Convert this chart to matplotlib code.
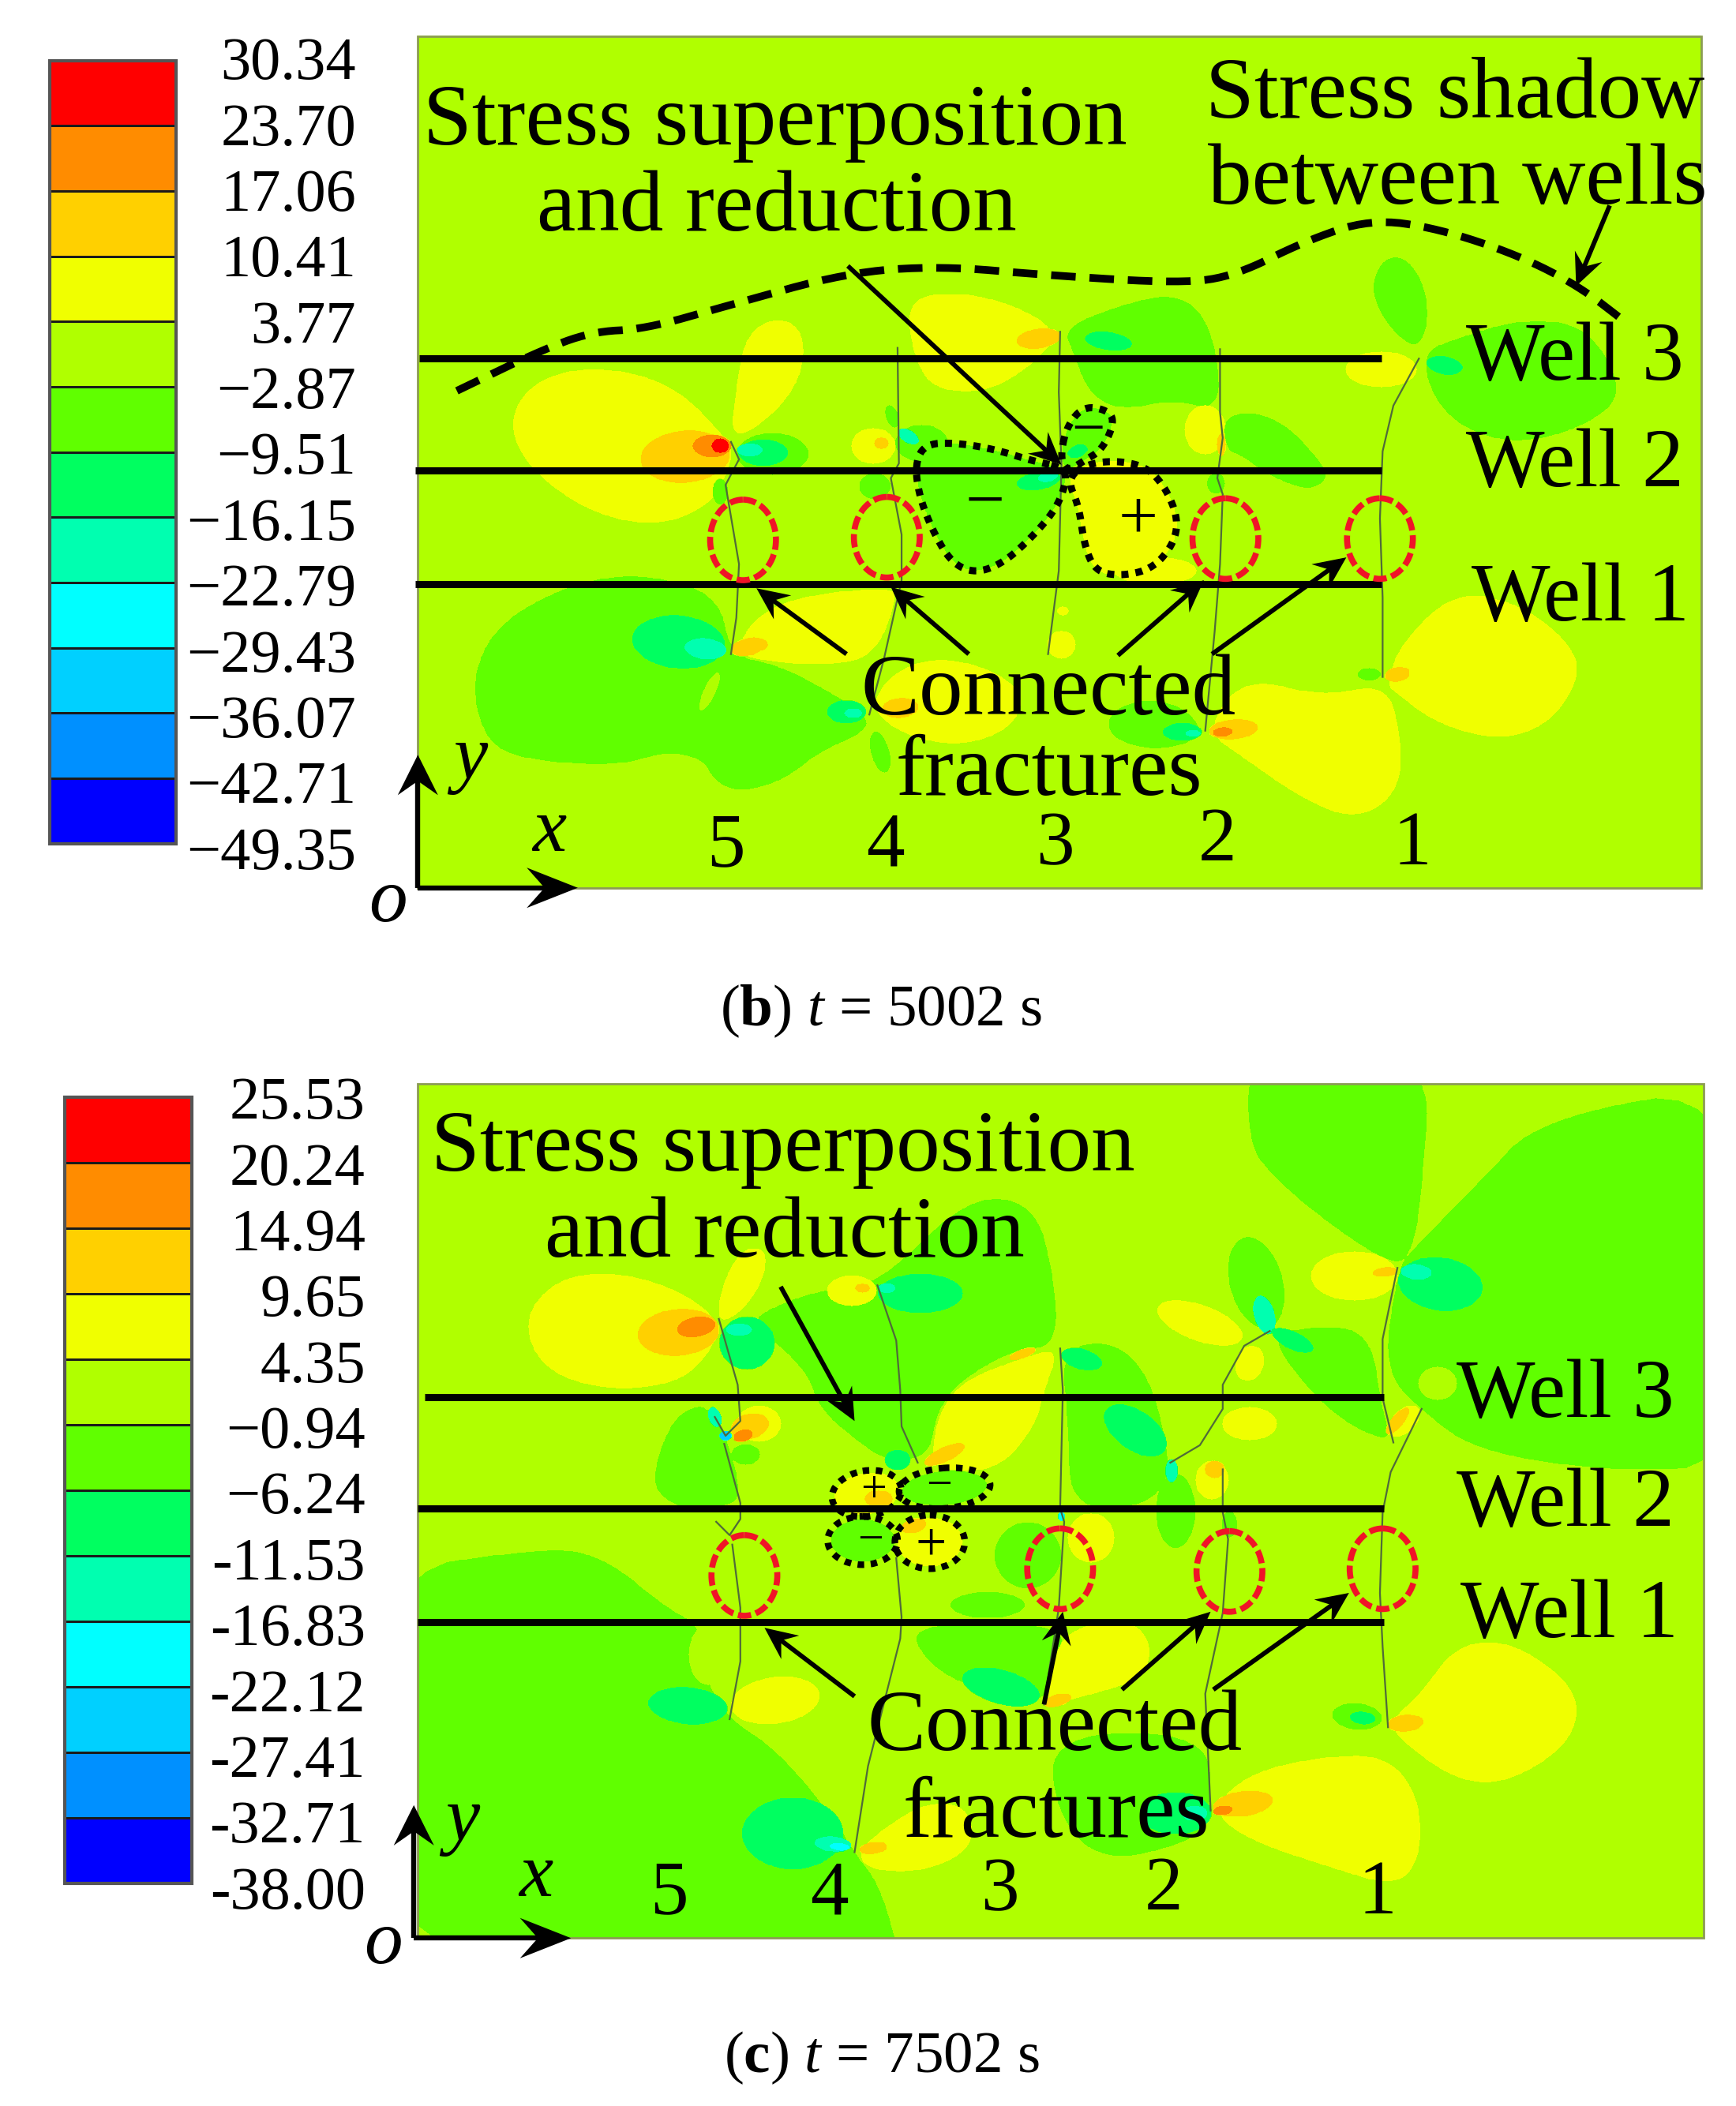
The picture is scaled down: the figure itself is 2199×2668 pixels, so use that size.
import numpy as np
import matplotlib
matplotlib.use("Agg")
import matplotlib.pyplot as plt
from matplotlib.path import Path
from matplotlib.patches import Rectangle, Ellipse
from matplotlib.colors import ListedColormap

plt.rcParams['font.family'] = ['Liberation Serif', 'DejaVu Serif']
plt.rcParams['mathtext.fontset'] = 'custom'
plt.rcParams['mathtext.rm'] = 'Liberation Serif'
plt.rcParams['mathtext.it'] = 'Liberation Serif:italic'
plt.rcParams['mathtext.bf'] = 'Liberation Serif:bold'

# band colours, top of the colour bar first
bar_colors = ['#ff0000', '#ff8c00', '#ffd000', '#f0ff00', '#b0ff00', '#60ff00',
              '#00ff60', '#00ffb0', '#00ffff', '#00d0ff', '#0090ff', '#0000ff']
# band number of each colour: 0 is the background colour
bar_bands = [4, 3, 2, 1, 0, -1, -2, -3, -4, -5, -6, -7]

b_ticks = ['30.34', '23.70', '17.06', '10.41', '3.77', '\u22122.87', '\u22129.51', '\u221216.15',
           '\u221222.79', '\u221229.43', '\u221236.07', '\u221242.71', '\u221249.35']
c_ticks = ['25.53', '20.24', '14.94', '9.65', '4.35', '\u22120.94', '\u22126.24', '-11.53',
           '-16.83', '-22.12', '-27.41', '-32.71', '-38.00']

# regions: (band, [polygon points]) or (band, x, y, a, b, rotation), painted in order
b_regions = [
    (1, [(544, 330), (500, 285), (440, 272), (395, 285), (378, 316), (395, 350), (440, 382), (490, 392), (530, 375), (544, 345)]),
    (1, [(544, 330), (548, 290), (555, 250), (577, 236), (597, 245), (598, 275), (580, 305)]),
    (2, 510, 340, 33, 19, -5),
    (3, 530, 332, 14, 8, 0),
    (4, 536, 332, 6, 5, 0),
    (-1, 575, 338, 27, 16, 0),
    (-2, 568, 337, 19, 10, 0),
    (-3, 558, 335, 10, 5, 0),
    (-1, 536, 366, 6, 10, 0),
    (-1, [(352, 500), (370, 465), (412, 440), (455, 428), (495, 430), (536, 445), (544, 488), (580, 495), (618, 515), (645, 532), (645, 545), (610, 560), (584, 581), (552, 590), (532, 583), (523, 565), (495, 560), (462, 570), (410, 568), (370, 560), (355, 535)]),
    (1, [(548, 486), (560, 462), (590, 445), (660, 437), (668, 445), (650, 490), (610, 495), (570, 492)]),
    (-2, 505, 478, 35, 20, 5),
    (-3, 525, 483, 16, 8, 5),
    (2, 556, 482, 12, 6, -10),
    (0, 528, 515, 4, 15, 25),
    (2, 561, 480, 10, 5, 0),
    (1, [(648, 530), (660, 505), (690, 490), (730, 495), (762, 515), (755, 540), (720, 555), (680, 550)]),
    (2, 670, 527, 13, 7, -5),
    (-2, 630, 530, 15, 9, 0),
    (-3, 635, 531, 7, 4, 0),
    (-1, 655, 560, 7, 16, -15),
    (1, [(789, 247), (750, 225), (705, 217), (675, 225), (680, 265), (695, 290), (735, 292), (770, 270)]),
    (2, 773, 252, 16, 7, -8),
    (-1, [(791, 244), (833, 227), (873, 218), (896, 233), (907, 267), (907, 306), (873, 298), (833, 306), (810, 293), (799, 264)]),
    (-2, 825, 254, 18, 7, 8),
    (-1, 664, 310, 5, 9, -20),
    (-1, 686, 330, 20, 14, 0),
    (1, 650, 332, 16, 13, 0),
    (2, 656, 330, 5, 4, 0),
    (-3, 676, 325, 9, 5, 30),
    (-1, 651, 362, 12, 10, 0),
    (-1, [(791, 348), (768, 343), (742, 335), (715, 330), (689, 330), (681, 345), (684, 369), (694, 395), (708, 419), (726, 427), (747, 419), (768, 400), (786, 379), (794, 358)]),
    (-2, 773, 358, 17, 7, -10),
    (-3, 780, 355, 8, 4, -10),
    (-1, [(789, 340), (794, 317), (807, 302), (826, 306), (829, 316), (820, 335), (807, 343), (794, 351)]),
    (-2, 802, 336, 8, 5, -20),
    (1, 860, 425, 30, 10, 0),
    (1, [(794, 356), (810, 345), (833, 343), (854, 348), (868, 364), (877, 387), (873, 406), (857, 424), (833, 429), (815, 425), (807, 406), (803, 377)]),
    (1, 897, 320, 15, 18, 0),
    (2, 909, 331, 3, 8, 0),
    (-1, [(910, 310), (935, 306), (960, 318), (980, 340), (990, 355), (975, 366), (945, 355), (925, 340), (912, 335)]),
    (-1, 905, 360, 7, 8, 0),
    (1, 790, 480, 10, 10, 0),
    (1, 791, 455, 4, 3, 0),
    (-1, [(897, 545), (880, 525), (850, 520), (825, 530), (825, 548), (850, 558), (880, 556)]),
    (-2, 880, 545, 15, 7, 0),
    (-3, 888, 546, 6, 3, 0),
    (1, [(897, 544), (926, 504), (984, 519), (1031, 509), (1042, 544), (1042, 589), (1009, 611), (967, 593), (926, 564)]),
    (2, 918, 543, 18, 7, -5),
    (3, 910, 545, 7, 3, -5),
    (1, [(1033, 509), (1042, 480), (1083, 440), (1132, 450), (1169, 480), (1176, 504), (1153, 539), (1116, 551), (1070, 539), (1037, 514)]),
    (2, 1040, 502, 9, 5, -10),
    (-1, 1019, 502, 9, 5, 0),
    (-1, [(1054, 262), (1030, 240), (1020, 215), (1028, 193), (1045, 190), (1060, 210), (1064, 240)]),
    (-1, [(1058, 262), (1083, 252), (1132, 237), (1182, 242), (1210, 292), (1182, 317), (1132, 331), (1091, 321), (1066, 297)]),
    (-2, 1075, 272, 14, 7, 10),
    (1, 1028, 275, 26, 13, 0),
]

c_regions = [
    (-1, [(930, 780), (1066, 780), (1058, 892), (1052, 929), (1040, 944), (996, 917), (947, 877), (928, 850)]),
    (-1, [(1052, 929), (1099, 882), (1145, 832), (1300, 806), (1300, 1091), (1198, 1096), (1099, 1081), (1058, 1051), (1029, 1020), (1040, 944)]),
    (0, 1070, 1030, 14, 12, 0),
    (-1, [(946, 995), (975, 987), (1020, 990), (1029, 1050), (1037, 1075), (1000, 1060), (965, 1025)]),
    (-1, [(270, 1172), (412, 1151), (453, 1161), (495, 1196), (523, 1211), (525, 1250), (543, 1280), (578, 1302), (620, 1352), (636, 1379), (657, 1406), (675, 1480), (270, 1480)]),
    (-1, [(653, 957), (720, 890), (770, 895), (785, 950), (787, 1003), (755, 1005), (715, 1028), (697, 1052), (692, 1085), (660, 1088), (640, 1075), (610, 1050), (600, 1020), (560, 985), (570, 975), (610, 960)]),
    (-1, [(789, 1004), (827, 998), (851, 1018), (864, 1052), (872, 1100), (850, 1123), (796, 1123), (795, 1060)]),
    (-1, [(532, 1045), (505, 1050), (490, 1080), (485, 1110), (510, 1125), (535, 1123), (555, 1115)]),
    (-1, [(675, 1208), (790, 1208), (790, 1235), (775, 1272), (730, 1260), (690, 1240)]),
    (-1, [(782, 1290), (900, 1290), (901, 1348), (893, 1370), (820, 1388), (785, 1350)]),
    (-1, 765, 1158, 25, 25, 0),
    (-1, 735, 1195, 28, 10, 0),
    (-1, 875, 1125, 15, 28, 0),
    (-1, 935, 955, 20, 35, -15),
    (1, [(535, 982), (500, 958), (450, 946), (410, 955), (389, 985), (405, 1020), (450, 1035), (505, 1030), (530, 1005)]),
    (1, [(533, 982), (540, 950), (555, 928), (572, 932), (565, 960), (545, 982)]),
    (2, 505, 992, 30, 17, -5),
    (3, 518, 988, 14, 7, -10),
    (-2, 556, 1000, 21, 20, 0),
    (-3, 550, 990, 10, 5, 0),
    (1, 565, 1060, 16, 13, 0),
    (2, 558, 1062, 14, 9, -15),
    (3, 553, 1069, 7, 4, -15),
    (-1, 555, 1083, 11, 8, 0),
    (-3, 532, 1055, 5, 8, -20),
    (-5, 540, 1069, 5, 4, 0),
    (1, 634, 961, 18, 11, 0),
    (2, 642, 959, 5, 3, 0),
    (-2, 685, 963, 32, 15, 0),
    (-3, 660, 959, 7, 4, 0),
    (1, [(788, 1004), (762, 1011), (717, 1028), (699, 1052), (693, 1085), (704, 1095), (743, 1094), (770, 1062), (777, 1035)]),
    (2, 703, 1083, 16, 5, -25),
    (2, 761, 1008, 10, 3, -20),
    (-2, 805, 1012, 16, 8, 15),
    (-2, 845, 1065, 27, 15, 35),
    (-3, 872, 1095, 5, 9, 0),
    (1, 893, 985, 33, 13, 20),
    (1, 930, 1015, 10, 13, 20),
    (-3, 941, 979, 8, 15, -15),
    (-2, 962, 998, 17, 7, 25),
    (1, 930, 1060, 20, 12, 0),
    (1, 902, 1102, 12, 14, 0),
    (2, 904, 1094, 7, 6, 0),
    (-1, 915, 1135, 6, 10, 0),
    (1, 1008, 950, 32, 18, 0),
    (2, 1031, 947, 9, 3, -5),
    (-2, 1072, 956, 32, 20, 8),
    (-3, 1054, 947, 12, 6, 5),
    (1, 1045, 1058, 14, 8, -45),
    (2, 1040, 1058, 12, 4, -50),
    (1, 812, 1145, 17, 18, 0),
    (-4, 790, 1129, 3, 4, 0),
    (1, 645, 1112, 24, 15, -10),
    (2, 654, 1116, 10, 6, 0),
    (-1, 703, 1108, 32, 13, -5),
    (-1, 642, 1147, 24, 16, 0),
    (1, 692, 1148, 24, 18, 0),
    (2, 680, 1136, 9, 5, -15),
    (-2, 668, 1087, 10, 8, 0),
    (-2, 512, 1270, 30, 14, 5),
    (1, 577, 1266, 33, 17, -8),
    (0, 527, 1232, 14, 22, 0),
    (-2, 590, 1365, 38, 27, 0),
    (-3, 620, 1373, 14, 6, 5),
    (-4, 625, 1375, 8, 3, 5),
    (1, [(637, 1380), (660, 1360), (690, 1342), (720, 1345), (725, 1375), (690, 1393), (650, 1393)]),
    (2, 650, 1376, 10, 4, -8),
    (-2, 745, 1256, 30, 13, 15),
    (1, [(775, 1270), (785, 1230), (800, 1212), (840, 1205), (858, 1225), (850, 1250), (810, 1262)]),
    (2, 787, 1266, 10, 4, -15),
    (-2, 875, 1350, 27, 16, 0),
    (-3, 889, 1350, 10, 6, 0),
    (1, [(901, 1348), (930, 1320), (985, 1308), (1030, 1307), (1055, 1335), (1058, 1380), (1040, 1405), (990, 1390), (930, 1370)]),
    (2, 925, 1343, 22, 9, -8),
    (3, 910, 1348, 7, 3, -8),
    (1, [(1035, 1281), (1058, 1261), (1083, 1226), (1120, 1221), (1161, 1246), (1176, 1271), (1165, 1301), (1120, 1328), (1083, 1325), (1042, 1295)]),
    (2, 1046, 1283, 13, 6, -5),
    (-1, 1010, 1278, 19, 10, 5),
    (-2, 1014, 1279, 10, 5, 5),
]

b_fractures = [
    [(544, 329), (550, 342), (540, 361), (550, 420), (548, 460), (544, 487)],
    [(668, 259), (669, 345), (663, 356), (671, 398), (671, 432), (658, 490), (647, 532)],
    [(789, 247), (788, 292), (790, 346), (788, 425), (780, 487)],
    [(908, 260), (908, 307), (910, 326), (906, 356), (910, 368), (908, 420), (904, 470), (897, 544)],
    [(1056, 267), (1037, 302), (1029, 336), (1027, 386), (1029, 445), (1029, 504)],
]
c_fractures = [
    [(535, 982), (549, 1031), (551, 1058), (540, 1069), (532, 1055)],
    [(539, 1075), (551, 1119), (551, 1131), (543, 1143), (533, 1133)],
    [(545, 1150), (551, 1197), (551, 1237), (543, 1280)],
    [(653, 957), (667, 998), (670, 1035), (671, 1062), (683, 1089)],
    [(667, 1160), (671, 1204), (670, 1220), (646, 1315), (636, 1379)],
    [(789, 1004), (791, 1035), (789, 1123), (792, 1133), (788, 1197), (777, 1269)],
    [(910, 1094), (910, 1126), (914, 1146), (910, 1201), (897, 1261), (901, 1348)],
    [(871, 1089), (893, 1076), (910, 1049), (910, 1031), (926, 1002), (945, 991)],
    [(1040, 944), (1029, 997), (1029, 1041), (1037, 1074)],
    [(1058, 1049), (1035, 1096), (1029, 1126), (1027, 1186), (1029, 1226), (1033, 1286)],
]

b_shadow = [(340, 291), (400, 262), (440, 247), (480, 245), (540, 228), (630, 203), (700, 198), (780, 205),
            (880, 211), (920, 205), (970, 180), (1020, 163), (1070, 170), (1130, 190), (1175, 213), (1210, 240)]
b_loops = [
    [(791, 348), (768, 343), (742, 335), (715, 330), (689, 330), (681, 345), (684, 369), (694, 395), (708, 419), (726, 427), (747, 419), (768, 400), (786, 379), (794, 358)],
    [(789, 340), (794, 317), (807, 302), (826, 306), (829, 316), (820, 335), (807, 343), (794, 351)],
    [(794, 356), (810, 345), (833, 343), (854, 348), (868, 364), (877, 387), (873, 406), (857, 424), (833, 429), (815, 425), (807, 406), (803, 377)],
]
c_loops = [(645, 1112, 26, 17, -10), (703, 1108, 34, 15, -5), (642, 1147, 26, 18, 0), (692, 1148, 26, 20, 0)]

b_circles = [(553, 402), (660, 400), (912, 401), (1027, 401)]
c_circles = [(554, 1173), (789, 1168), (915, 1170), (1029, 1168)]
b_wells = [(312, 1028, 267), (309, 1028, 350), (309, 1028, 435)]
c_wells = [(316, 1030, 1040), (311, 1030, 1123), (311, 1030, 1208)]
b_arrows = [((631, 198), (790, 346)), ((1198, 153), (1173, 213)), ((630, 487), (563, 438)),
            ((721, 487), (663, 437)), ((832, 488), (896, 432)), ((902, 487), (1002, 415))]
c_arrows = [((581, 958), (636, 1058)), ((636, 1263), (569, 1212)), ((777, 1269), (791, 1200)),
            ((835, 1258), (901, 1200)), ((903, 1258), (1004, 1186))]

big_font = 80
well_font = 76
digit_font = 70
tick_font = 55
cap_font = 54


def soften(pts, closed=True, rounds=3):
    # corner cutting so the outlines do not look like polygons
    p = np.array(pts, float)
    for i in range(rounds):
        q = np.roll(p, -1, axis=0)
        a = 0.75 * p + 0.25 * q
        c = 0.25 * p + 0.75 * q
        new = np.empty((len(p) * 2, 2))
        new[0::2] = a
        new[1::2] = c
        if closed:
            p = new
        else:
            p = np.vstack([p[0], new[:-2], p[-1]])
    return p


def stress_field(regions, x0, x1, y0, y1, step=0.5):
    xs = np.arange(x0, x1 + step, step)
    ys = np.arange(y0, y1 + step, step)
    X, Y = np.meshgrid(xs, ys)
    Z = np.zeros(X.shape)
    for r in regions:
        if len(r) == 2:
            pts = soften(r[1])
            i0 = max(np.searchsorted(xs, pts[:, 0].min()) - 1, 0)
            i1 = np.searchsorted(xs, pts[:, 0].max()) + 1
            j0 = max(np.searchsorted(ys, pts[:, 1].min()) - 1, 0)
            j1 = np.searchsorted(ys, pts[:, 1].max()) + 1
            sx, sy = X[j0:j1, i0:i1], Y[j0:j1, i0:i1]
            inside = Path(pts).contains_points(np.c_[sx.ravel(), sy.ravel()]).reshape(sx.shape)
            Z[j0:j1, i0:i1][inside] = r[0]
        else:
            band, cx, cy, a, b, rot = r
            t = np.radians(rot)
            u = (X - cx) * np.cos(t) + (Y - cy) * np.sin(t)
            v = -(X - cx) * np.sin(t) + (Y - cy) * np.cos(t)
            Z[(u / a) ** 2 + (v / b) ** 2 <= 1] = band
    return X, Y, Z


def arrow(ax, tail, tip, hl=24, hw=11, lw=4.2):
    tail, tip = np.array(tail, float), np.array(tip, float)
    d = (tip - tail) / np.hypot(*(tip - tail))
    n = np.array([-d[1], d[0]])
    ax.plot([tail[0], (tip - d * hl * 0.6)[0]], [tail[1], (tip - d * hl * 0.6)[1]],
            color='k', lw=lw, solid_capstyle='butt', zorder=6)
    head = [tip, tip - d * hl + n * hw, tip - d * hl * 0.65, tip - d * hl - n * hw]
    ax.fill(*zip(*head), color='k', lw=0, zorder=6)


def panel(ax, left, right, top, bottom, regions, fractures, wells, circles, arrows):
    X, Y, Z = stress_field(regions, left, right, top, bottom)
    order = np.argsort(bar_bands)
    levels = np.arange(-7.5, 5, 1)
    ax.contourf(X, Y, Z, levels=levels, colors=[bar_colors[i] for i in order], zorder=1)
    ax.add_patch(Rectangle((left, top), right - left, bottom - top, fill=False, ec='#8c9c55', lw=2, zorder=2))
    for f in fractures:
        p = np.array(f)
        ax.plot(p[:, 0], p[:, 1], color='#4f6b3a', lw=1.6, zorder=3)
    for x0, x1, y in wells:
        ax.plot([x0, x1], [y, y], color='k', lw=6.5, solid_capstyle='butt', zorder=5)
    for cx, cy in circles:
        ax.add_patch(Ellipse((cx, cy), 49, 60, fill=False, ec='#f01428', lw=5.5,
                             ls=(0, (2.2, 0.8)), zorder=5))
    for tail, tip in arrows:
        arrow(ax, tail, tip)


def color_bar(ax, x0, x1, y0, y1, ticks, tick_right, tick_y0, tick_dy):
    ys = np.linspace(y0, y1, len(bar_colors) + 1)
    cmap = ListedColormap(bar_colors)
    ax.pcolormesh([x0, x1], ys, np.arange(len(bar_colors)).reshape(-1, 1), cmap=cmap,
                  edgecolors='#1a1a1a', linewidth=1.8, zorder=2)
    ax.add_patch(Rectangle((x0, y0), x1 - x0, y1 - y0, fill=False, ec='#555555', lw=3, zorder=3))
    for i, t in enumerate(ticks):
        ax.text(tick_right, tick_y0 + i * tick_dy, t, ha='right', va='center', fontsize=tick_font, zorder=6)


def label(ax, x, y, s, size=big_font, **kw):
    ax.text(x, y, s, ha='center', va='center', fontsize=size, zorder=7, **kw)


fig = plt.figure(figsize=(21.99, 26.68), dpi=100)
ax = fig.add_axes([0, 0, 1, 1])
ax.set_xlim(0, 1292)
ax.set_ylim(1568, 0)
ax.axis('off')

# panel (b)
color_bar(ax, 37, 131, 45, 628, b_ticks, 265, 48, 49)
panel(ax, 311, 1266, 27, 661, b_regions, b_fractures, b_wells, b_circles, b_arrows)
p = soften(b_shadow, closed=False)
ax.plot(p[:, 0], p[:, 1], color='k', lw=7, ls=(0, (3.2, 1.8)), zorder=4)
for loop in b_loops:
    p = soften(loop)
    p = np.vstack([p, p[0]])
    ax.plot(p[:, 0], p[:, 1], color='k', lw=6.5, ls=(0, (1, 1.0)), zorder=5)
label(ax, 577, 92, 'Stress superposition')
label(ax, 578, 156, 'and reduction')
label(ax, 1083, 72, 'Stress shadow')
label(ax, 1085, 136, 'between wells')
label(ax, 1172, 268, 'Well 3', size=well_font)
label(ax, 1172, 347, 'Well 2', size=well_font)
label(ax, 1176, 447, 'Well 1', size=well_font)
label(ax, 780, 516, 'Connected')
label(ax, 781, 576, 'fractures')
label(ax, 733, 376, '\u2212', size=64)
label(ax, 847, 388, '+', size=64)
label(ax, 810, 322, '\u2212', size=54)
for x, y, s in zip([540, 659, 785, 906, 1051], [631, 631, 630, 627, 630], '54321'):
    label(ax, x, y, s, size=digit_font)
arrow(ax, (311, 661), (311, 562), hl=30, hw=15, lw=4.6)
arrow(ax, (311, 661), (430, 661), hl=38, hw=15, lw=4.6)
label(ax, 350, 566, 'y', size=digit_font, style='italic')
label(ax, 409, 620, 'x', size=digit_font, style='italic')
label(ax, 289, 672, 'o', size=digit_font, style='italic')
ax.text(656, 753, r'($\mathbf{b}$) $\mathit{t}$ = 5002 s', ha='center', va='center', fontsize=cap_font)

# panel (c)
color_bar(ax, 48, 143, 817, 1402, c_ticks, 272, 822, 49)
panel(ax, 311, 1268, 807, 1443, c_regions, c_fractures, c_wells, c_circles, c_arrows)
for cx, cy, rx, ry, rot in c_loops:
    ax.add_patch(Ellipse((cx, cy), 2 * rx, 2 * ry, angle=rot, fill=False, ec='k', lw=6,
                         ls=(0, (1, 1.0)), zorder=5))
label(ax, 583, 856, 'Stress superposition')
label(ax, 584, 920, 'and reduction')
label(ax, 1165, 1040, 'Well 3', size=well_font)
label(ax, 1165, 1121, 'Well 2', size=well_font)
label(ax, 1168, 1204, 'Well 1', size=well_font)
label(ax, 785, 1287, 'Connected')
label(ax, 786, 1352, 'fractures')
label(ax, 650, 1110, '+', size=42)
label(ax, 699, 1107, '\u2212', size=42)
label(ax, 648, 1148, '\u2212', size=42)
label(ax, 693, 1152, '+', size=50)
for x, y, s in zip([498, 617, 744, 866, 1025], [1411, 1411, 1409, 1408, 1411], '54321'):
    label(ax, x, y, s, size=digit_font)
arrow(ax, (308, 1443), (308, 1344), hl=30, hw=15, lw=4.6)
arrow(ax, (308, 1443), (425, 1443), hl=38, hw=15, lw=4.6)
label(ax, 344, 1356, 'y', size=digit_font, style='italic')
label(ax, 399, 1398, 'x', size=digit_font, style='italic')
label(ax, 285, 1448, 'o', size=digit_font, style='italic')
ax.text(656, 1532, r'($\mathbf{c}$) $\mathit{t}$ = 7502 s', ha='center', va='center', fontsize=cap_font)

fig.savefig('out.png', dpi=100)
